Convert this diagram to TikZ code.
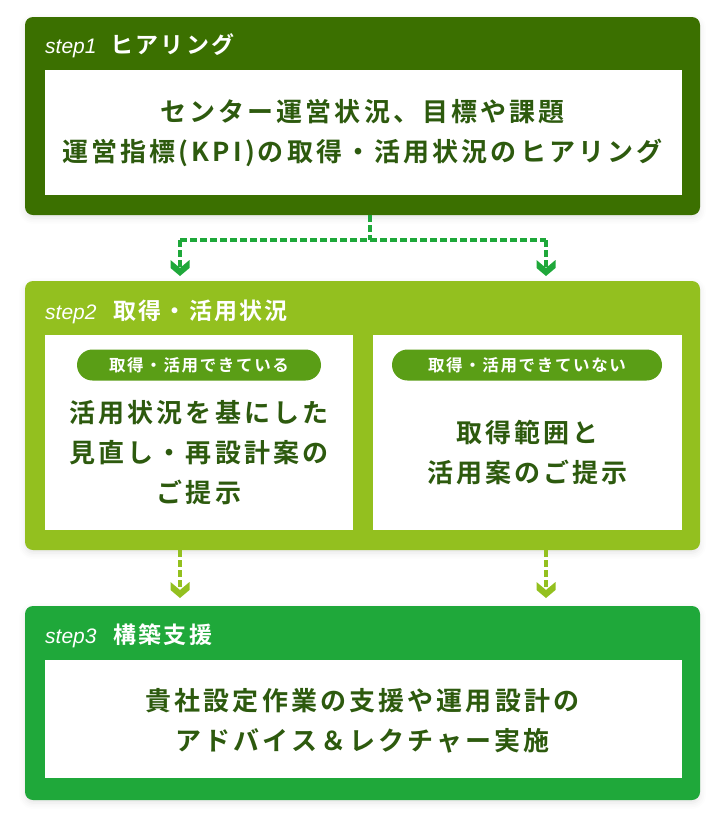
\documentclass[tikz,border=0pt]{standalone}
\usepackage{fontspec}
\usetikzlibrary{calc,shadows.blur}
\newfontfamily\jpb{Noto Sans CJK JP Bold}[LetterSpace=12]
\newfontfamily\jpt{Noto Sans CJK JP Bold}[LetterSpace=10]
\newfontfamily\stepfont{Liberation Sans}
\definecolor{cone}{HTML}{3B7000}
\definecolor{ctwo}{HTML}{93C01F}
\definecolor{cthree}{HTML}{1FA83A}
\definecolor{pillc}{HTML}{5A9E16}
\definecolor{txt}{HTML}{2D5A0E}
\begin{document}
\begin{tikzpicture}[x=1pt,y=-1pt]
\useasboundingbox (0,0) rectangle (725,823);
\tikzset{
 stepbox/.style={rounded corners=8pt, anchor=north west, inner sep=0pt, outer sep=0pt,
   blur shadow={shadow xshift=0pt, shadow yshift=-3pt, shadow blur radius=6pt, shadow opacity=10}},
 innerbox/.style={fill=white, anchor=north west, inner sep=0pt, outer sep=0pt},
 main/.style={text=txt, align=center, inner sep=0pt, font=\jpb\fontsize{26}{40}\selectfont},
 steplbl/.style={anchor=base west, text=white, inner sep=0pt, font=\stepfont\itshape\fontsize{21}{24}\selectfont},
 titlelbl/.style={anchor=base west, text=white, inner sep=0pt, font=\jpt\fontsize{23}{26}\selectfont},
 pill/.style={fill=pillc, rounded corners=15.5pt, minimum height=31pt, inner sep=0pt, text=white, font=\jpt\fontsize{16.5}{18}\selectfont},
 conn/.style={line width=4.5pt, dash pattern=on 7pt off 3pt},
}
% step 1
\node[stepbox, fill=cone, minimum width=675pt, minimum height=198pt] (s1) at (25,17) {};
\node[innerbox, minimum width=637pt, minimum height=125pt] (w1) at (45,70) {};
\node[steplbl] (l1) at (45,53) {step1};
\node[titlelbl] (t1) at (110,53) {ヒアリング};
\node[main] (m1) at (362.5,133) {センター運営状況、目標や課題\\運営指標(KPI)の取得・活用状況のヒアリング};
% step 2
\node[stepbox, fill=ctwo, minimum width=675pt, minimum height=269pt] (s2) at (25,281) {};
\node[innerbox, minimum width=308pt, minimum height=195pt] (w2a) at (45,335) {};
\node[innerbox, minimum width=309pt, minimum height=195pt] (w2b) at (373,335) {};
\node[steplbl] (l2) at (45,319) {step2};
\node[titlelbl] (t2) at (113,319) {取得・活用状況};
\node[pill, minimum width=244pt] (p1) at (199,365) {取得・活用できている};
\node[pill, minimum width=270pt] (p2) at (527,365) {取得・活用できていない};
\node[main] (m2a) at (199,453) {活用状況を基にした\\見直し・再設計案の\\ご提示};
\node[main] (m2b) at (527.5,453) {取得範囲と\\活用案のご提示};
% step 3
\node[stepbox, fill=cthree, minimum width=675pt, minimum height=194pt] (s3) at (25,606) {};
\node[innerbox, minimum width=637pt, minimum height=118pt] (w3) at (45,660) {};
\node[steplbl] (l3) at (45,643) {step3};
\node[titlelbl] (t3) at (113,643) {構築支援};
\node[main] (m3) at (362.5,721) {貴社設定作業の支援や運用設計の\\アドバイス＆レクチャー実施};
% connectors 1 -> 2
\coordinate (j) at (370,240);
\coordinate (la) at (180,240);
\coordinate (ra) at (546,240);
\coordinate (tipa) at (180,276);
\coordinate (tipb) at (546,276);
\draw[conn, cthree] (s1.south -| j) -- (j);
\draw[conn, cthree] (la) -- (ra);
\draw[conn, cthree] (la) -- ($(tipa)+(0,-8)$);
\draw[conn, cthree] (ra) -- ($(tipb)+(0,-8)$);
\fill[cthree] ($(tipa)+(-9.5,-16)$) -- ($(tipa)+(0,-8)$) -- ($(tipa)+(9.5,-16)$) -- ($(tipa)+(9.5,-8)$) -- (tipa) -- ($(tipa)+(-9.5,-8)$) -- cycle;
\fill[cthree] ($(tipb)+(-9.5,-16)$) -- ($(tipb)+(0,-8)$) -- ($(tipb)+(9.5,-16)$) -- ($(tipb)+(9.5,-8)$) -- (tipb) -- ($(tipb)+(-9.5,-8)$) -- cycle;
% connectors 2 -> 3
\coordinate (tipc) at (180,598);
\coordinate (tipd) at (546,598);
\draw[conn, ctwo] (s2.south -| tipc) -- ($(tipc)+(0,-8)$);
\draw[conn, ctwo] (s2.south -| tipd) -- ($(tipd)+(0,-8)$);
\fill[ctwo] ($(tipc)+(-9.5,-16)$) -- ($(tipc)+(0,-8)$) -- ($(tipc)+(9.5,-16)$) -- ($(tipc)+(9.5,-8)$) -- (tipc) -- ($(tipc)+(-9.5,-8)$) -- cycle;
\fill[ctwo] ($(tipd)+(-9.5,-16)$) -- ($(tipd)+(0,-8)$) -- ($(tipd)+(9.5,-16)$) -- ($(tipd)+(9.5,-8)$) -- (tipd) -- ($(tipd)+(-9.5,-8)$) -- cycle;
\end{tikzpicture}
\end{document}
